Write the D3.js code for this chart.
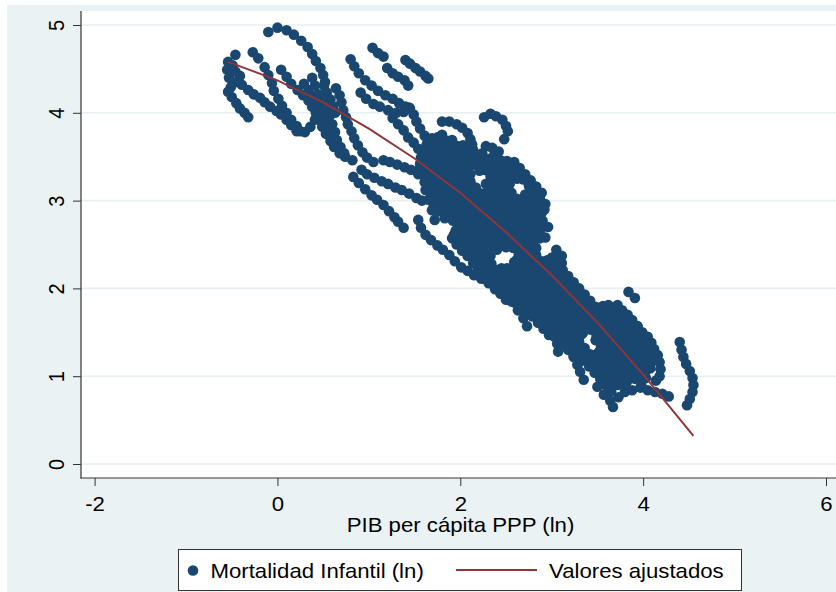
<!DOCTYPE html>
<html>
<head>
<meta charset="utf-8">
<script src="https://cdn.jsdelivr.net/npm/d3@7"></script>
<style>
  html, body { margin: 0; padding: 0; background: #ffffff; }
  svg { display: block; }
  text { font-family: Arial, "Liberation Sans", sans-serif; fill: #000; }
</style>
</head>
<body>
<svg id="chart" width="836" height="592"></svg>
<script>
// Axis ticks
const ticksX = [-2, 0, 2, 4, 6];
const ticksY = [0, 1, 2, 3, 4, 5];

// Fitted values (quadratic fit of ln infant mortality on ln GDP per capita)
const ajusteX = [-0.54, 0.0, 0.5, 1.0, 1.5, 2.0, 2.5, 3.0, 3.5, 4.0, 4.55];
const ajusteY = [4.58, 4.37, 4.12, 3.82, 3.48, 3.09, 2.64, 2.15, 1.61, 1.02, 0.32];

// Observations [ln PIB per cápita PPP, ln mortalidad infantil], low-income trajectories
const obsIngresoBajo = [
  [-0.46,4.66],[-0.54,4.58],[-0.49,4.54],[-0.55,4.49],[-0.46,4.47],[-0.41,4.42],[-0.53,4.40],[-0.45,4.35],[-0.51,4.29],[-0.54,4.24],
  [-0.50,4.18],[-0.45,4.11],[-0.41,4.05],[-0.36,4.00],[-0.32,3.95],
  [-0.39,4.32],[-0.32,4.26],[-0.26,4.21],[-0.19,4.17],[-0.14,4.12],[-0.08,4.07],[-0.01,4.02],[0.04,3.98],[0.10,3.92],[0.15,3.86],[0.21,3.79],
  [-0.27,4.69],[-0.21,4.62],
  [-0.14,4.52],[-0.10,4.43],[-0.06,4.34],[-0.04,4.25],[0.01,4.16],[0.05,4.08],[0.10,4.00],[0.15,3.92],[0.21,3.85],[0.25,3.79],[0.30,3.78],[0.36,3.84],[0.41,3.92],
  [-0.10,4.92],[0.00,4.97],[0.10,4.94],[0.18,4.89],[0.26,4.82],[0.33,4.75],[0.38,4.67],[0.42,4.59],[0.47,4.51],[0.50,4.43],[0.52,4.35],
  [0.04,4.49],[0.10,4.41],[0.15,4.33],[0.22,4.26],[0.28,4.20],[0.34,4.14],[0.38,4.07],[0.42,4.00],[0.46,3.92],[0.49,3.84],[0.53,3.76],[0.58,3.68],[0.62,3.61],[0.68,3.54],[0.74,3.50],[0.82,3.46],
  [0.29,4.33],[0.34,4.26],[0.38,4.19],[0.42,4.11],[0.47,4.03],[0.50,3.95],[0.53,3.87],[0.57,3.79],[0.60,3.71],[0.64,3.65],
  [0.38,4.40],[0.41,4.31],[0.45,4.21],[0.49,4.13],[0.53,4.05],[0.57,3.96],[0.60,3.87],[0.63,3.78],[0.65,3.69],[0.69,3.61],[0.73,3.54],
  [0.51,4.31],[0.54,4.23],[0.58,4.15],[0.61,4.07],[0.63,4.00],
  [0.64,4.28],[0.68,4.20],[0.70,4.12],[0.72,4.03],[0.75,3.95],[0.77,3.87],[0.81,3.79],[0.84,3.71],[0.88,3.63],[0.93,3.55],[0.98,3.49],[1.05,3.44],
  [0.80,4.61],[0.84,4.53],[0.89,4.45],[0.96,4.37],[1.03,4.31],[1.10,4.25],[1.18,4.20],[1.26,4.16],[1.33,4.11],[1.40,4.07],
  [0.91,4.23],[0.97,4.16],[1.05,4.10],[1.12,4.07],[1.21,4.03],[1.30,4.00],[1.38,4.01],[1.44,4.06],
  [1.04,4.74],[1.10,4.68],[1.16,4.64],
  [1.20,4.51],[1.26,4.45],[1.32,4.41],[1.39,4.37],[1.43,4.31],
  [0.83,3.27],[0.89,3.20],[0.96,3.13],[1.03,3.06],[1.09,3.01],[1.16,2.95],[1.22,2.88],[1.28,2.81],[1.32,2.76],[1.38,2.69],
  [0.92,3.35],[0.98,3.30],[1.06,3.26],[1.14,3.22],[1.21,3.19],[1.29,3.15],[1.36,3.12],[1.44,3.08],[1.52,3.03],[1.58,3.00]
];

// Middle-income trajectories
const obsIngresoMedio = [
  [1.40,4.60],[1.45,4.56],[1.51,4.51],[1.56,4.47],[1.62,4.42],[1.65,4.39],
  [1.45,4.05],[1.49,3.98],[1.52,3.90],[1.56,3.82],[1.61,3.74],[1.64,3.66],[1.67,3.58],
  [1.26,3.94],[1.32,3.87],[1.38,3.80],[1.43,3.72],[1.49,3.66],[1.54,3.59],[1.59,3.53],
  [1.80,3.90],[1.88,3.90],[1.96,3.87],[2.02,3.83],[2.08,3.77],[2.11,3.70],[2.13,3.64],
  [2.26,3.95],[2.33,3.99],[2.39,3.96],[2.46,3.92],[2.50,3.85],[2.52,3.79],
  [2.48,3.70],[2.28,3.62],[2.35,3.60],[2.42,3.56],
  [1.16,3.46],[1.23,3.44],[1.31,3.41],[1.39,3.38],[1.46,3.35],[1.54,3.30],[1.62,3.26],[1.69,3.22],
  [1.54,2.78],[1.57,2.69],[1.62,2.61],[1.68,2.55],[1.75,2.49],[1.81,2.44],[1.88,2.38],[1.94,2.31],[2.01,2.24],[2.08,2.20],[2.15,2.15],[2.23,2.11],[2.31,2.06],[2.38,2.01],[2.45,1.95],
  [1.72,2.78],[1.91,2.57],[1.96,2.50],[2.02,2.43],[2.08,2.37],[2.14,2.29],[2.19,2.22],[2.26,2.15],[2.32,2.08],[2.38,2.02],[2.44,1.94],[2.50,1.87],
  [1.65,3.01],[1.71,2.94],[1.77,2.88],[1.83,2.80],[1.95,2.66],[2.01,2.59],[2.07,2.52],[2.13,2.45],[2.19,2.38],[2.25,2.31],[2.31,2.24],[2.37,2.17],[2.43,2.10],[2.49,2.03],[2.55,1.96],[2.61,1.89],[2.67,1.82],[2.73,1.75],[2.79,1.68],[2.85,1.61],[2.91,1.54],[2.97,1.47],
  [1.61,3.21],[1.67,3.14],[1.73,3.07],[1.79,3.00],[1.85,2.93],[1.91,2.86],[1.97,2.79],[2.03,2.72],[2.09,2.65],[2.15,2.58],[2.21,2.51],[2.27,2.44],[2.33,2.37],[2.45,2.23],[2.51,2.16],[2.57,2.09],[2.63,2.02],[2.69,1.95],[2.75,1.88],[2.81,1.81],[2.87,1.74],[2.93,1.67],[2.99,1.60],[3.05,1.53],[3.11,1.46],[3.17,1.39],[3.23,1.32],[3.29,1.25],[3.35,1.18],[3.41,1.11],[3.47,1.04],[3.53,0.97],[3.59,0.90],[3.65,0.83],
  [1.56,3.42],[1.62,3.35],[1.68,3.28],[1.74,3.21],[1.80,3.14],[1.86,3.07],[1.92,3.00],[1.98,2.93],[2.04,2.86],[2.10,2.79],[2.16,2.72],[2.22,2.65],[2.28,2.58],[2.34,2.51],[2.40,2.44],[2.58,2.23],[2.64,2.16],[2.70,2.09],[2.76,2.02],[2.82,1.95],[2.88,1.88],[2.94,1.81],[3.00,1.74],[3.06,1.67],[3.12,1.60],[3.18,1.53],[3.24,1.46],[3.30,1.39],[3.36,1.32],[3.42,1.25],[3.48,1.18],[3.54,1.11],[3.60,1.04],[3.66,0.97],[3.72,0.90],
  [1.60,3.52],[1.66,3.45],[1.72,3.38],[1.78,3.31],[1.84,3.24],[1.90,3.17],[1.96,3.10],[2.02,3.03],[2.08,2.96],[2.14,2.89],[2.20,2.82],[2.26,2.75],[2.32,2.68],[2.38,2.61],[2.44,2.54],[2.50,2.47],[2.62,2.33],[2.68,2.26],[2.74,2.19],[2.80,2.12],[2.86,2.05],[2.92,1.98],[2.98,1.91],[3.04,1.84],[3.10,1.77],[3.16,1.70],[3.22,1.63],[3.28,1.56],[3.34,1.49],[3.52,1.28],[3.58,1.21],[3.64,1.14],[3.70,1.07],[3.76,1.00],[3.82,0.93],
  [1.63,3.63],[1.69,3.56],[1.75,3.49],[1.81,3.42],[1.87,3.35],[1.93,3.28],[1.99,3.21],[2.05,3.14],[2.11,3.07],[2.17,3.00],[2.23,2.93],[2.29,2.86],[2.35,2.79],[2.41,2.72],[2.47,2.65],[2.53,2.58],[2.59,2.51],[2.65,2.44],[2.71,2.37],[2.77,2.30],[2.83,2.23],[2.89,2.16],[2.95,2.09],[3.01,2.02],[3.07,1.95],[3.13,1.88],[3.19,1.81],[3.25,1.74],[3.31,1.67],[3.37,1.60],[3.43,1.53],[3.49,1.46],[3.55,1.39],[3.61,1.32],[3.67,1.25],[3.73,1.18],[3.79,1.11],[3.85,1.04],[3.91,0.97],
  [1.69,3.71],[1.75,3.64],[1.81,3.57],[1.87,3.50],[1.93,3.43],[1.99,3.36],[2.05,3.29],[2.11,3.22],[2.17,3.15],[2.23,3.08],[2.29,3.01],[2.35,2.94],[2.41,2.87],[2.47,2.80],[2.53,2.73],[2.59,2.66],[2.65,2.59],[2.71,2.52],[2.77,2.45],[2.83,2.38],[2.89,2.31],[2.95,2.24],[3.01,2.17],[3.07,2.10],[3.13,2.03],[3.19,1.96],[3.25,1.89],[3.31,1.82],[3.37,1.75],[3.43,1.68],[3.49,1.61],[3.55,1.54],[3.61,1.47],[3.67,1.40],[3.73,1.33],[3.79,1.26],[3.85,1.19],[3.91,1.12],[3.97,1.05],[4.03,0.98],
  [1.80,3.75],[1.86,3.68],[1.92,3.61],[1.98,3.54],[2.04,3.47],[2.10,3.40],[2.28,3.19],[2.34,3.12],[2.40,3.05],[2.46,2.98],[2.52,2.91],[2.58,2.84],[2.64,2.77],[2.70,2.70],[2.76,2.63],[2.82,2.56],[3.00,2.35],[3.06,2.28],[3.12,2.21],[3.18,2.14],[3.24,2.07],[3.30,2.00],[3.36,1.93],[3.42,1.86],[3.48,1.79],[3.54,1.72],[3.60,1.65],[3.66,1.58],[3.72,1.51],[3.78,1.44],[3.84,1.37],[3.90,1.30],[3.96,1.23],[4.02,1.16],[4.08,1.09],
  [2.03,3.63],[2.09,3.56],[2.15,3.49],[2.21,3.42],[2.27,3.35],[2.33,3.28],[2.39,3.21],[2.45,3.14],[2.51,3.07],[2.57,3.00],[2.63,2.93],[2.69,2.86],[2.75,2.79],[2.81,2.72],[2.87,2.65],[2.93,2.58],[3.05,2.44],[3.11,2.37],
  [2.24,3.54],[2.30,3.47],[2.36,3.40],[2.42,3.33],[2.48,3.26],[2.54,3.19],[2.72,2.98],[2.78,2.91],[2.84,2.84],[2.90,2.77],[2.96,2.70],
  [2.44,3.46],[2.50,3.39],[2.56,3.32],[2.62,3.25],[2.80,3.04],[2.86,2.97],[2.92,2.90],
  [2.59,3.44],[2.65,3.37],[2.71,3.30],[2.77,3.23],[2.83,3.16],[2.89,3.09]
];

// Upper-middle-income trajectories, interleaved with the ones above
const obsIngresoMedioAlto = [
  [1.69,2.89],[1.93,2.61],[1.99,2.54],[2.05,2.47],[2.11,2.40],[2.17,2.33],[2.23,2.26],[2.29,2.19],[2.35,2.12],[2.41,2.05],[2.47,1.98],[2.53,1.91],[2.59,1.84],[2.65,1.77],[2.71,1.70],
  [1.62,3.12],[1.68,3.05],[1.74,2.98],[1.80,2.91],[1.86,2.84],[1.92,2.77],[1.98,2.70],[2.04,2.63],[2.10,2.56],[2.16,2.49],[2.22,2.42],[2.28,2.35],[2.34,2.28],[2.40,2.21],[2.46,2.14],[2.52,2.07],[2.58,2.00],[2.64,1.93],[2.70,1.86],[2.76,1.79],[2.82,1.72],[2.88,1.65],[2.94,1.58],[3.00,1.51],[3.06,1.44],[3.12,1.37],[3.18,1.30],[3.24,1.23],[3.30,1.16],
  [1.55,3.35],[1.61,3.28],[1.67,3.21],[1.73,3.14],[1.79,3.07],[1.85,3.00],[1.91,2.93],[1.97,2.86],[2.03,2.79],[2.09,2.72],[2.15,2.65],[2.21,2.58],[2.27,2.51],[2.33,2.44],[2.51,2.23],[2.57,2.16],[2.63,2.09],[2.69,2.02],[2.75,1.95],[2.81,1.88],[2.87,1.81],[2.93,1.74],[2.99,1.67],[3.05,1.60],[3.11,1.53],[3.17,1.46],[3.23,1.39],[3.29,1.32],[3.35,1.25],[3.41,1.18],[3.47,1.11],[3.53,1.04],[3.59,0.97],[3.65,0.90],
  [1.57,3.49],[1.63,3.42],[1.69,3.35],[1.75,3.28],[1.81,3.21],[1.87,3.14],[1.93,3.07],[1.99,3.00],[2.05,2.93],[2.11,2.86],[2.17,2.79],[2.23,2.72],[2.29,2.65],[2.35,2.58],[2.41,2.51],[2.59,2.30],[2.65,2.23],[2.71,2.16],[2.77,2.09],[2.83,2.02],[2.89,1.95],[2.95,1.88],[3.01,1.81],[3.07,1.74],[3.13,1.67],[3.19,1.60],[3.25,1.53],[3.31,1.46],[3.49,1.25],[3.55,1.18],[3.61,1.11],[3.67,1.04],[3.73,0.97],[3.79,0.90],
  [1.62,3.58],[1.68,3.51],[1.74,3.44],[1.80,3.37],[1.86,3.30],[1.92,3.23],[1.98,3.16],[2.04,3.09],[2.10,3.02],[2.16,2.95],[2.22,2.88],[2.28,2.81],[2.34,2.74],[2.40,2.67],[2.46,2.60],[2.52,2.53],[2.58,2.46],[2.64,2.39],[2.70,2.32],[2.76,2.25],[2.82,2.18],[2.88,2.11],[2.94,2.04],[3.00,1.97],[3.06,1.90],[3.12,1.83],[3.18,1.76],[3.24,1.69],[3.30,1.62],[3.36,1.55],[3.48,1.41],[3.54,1.34],[3.60,1.27],[3.66,1.20],[3.72,1.13],[3.78,1.06],[3.84,0.99],
  [1.65,3.69],[1.71,3.62],[1.77,3.55],[1.83,3.48],[1.89,3.41],[1.95,3.34],[2.01,3.27],[2.07,3.20],[2.13,3.13],[2.19,3.06],[2.25,2.99],[2.31,2.92],[2.37,2.85],[2.43,2.78],[2.49,2.71],[2.55,2.64],[2.61,2.57],[2.67,2.50],[2.73,2.43],[2.79,2.36],[2.85,2.29],[2.91,2.22],[2.97,2.15],[3.03,2.08],[3.09,2.01],[3.15,1.94],[3.21,1.87],[3.27,1.80],[3.33,1.73],[3.39,1.66],[3.45,1.59],[3.51,1.52],[3.57,1.45],[3.63,1.38],[3.69,1.31],[3.75,1.24],[3.81,1.17],[3.87,1.10],[3.93,1.03],[3.99,0.96],
  [1.75,3.72],[1.81,3.65],[1.87,3.58],[1.93,3.51],[1.99,3.44],[2.05,3.37],[2.11,3.30],[2.29,3.09],[2.35,3.02],[2.41,2.95],[2.47,2.88],[2.53,2.81],[2.59,2.74],[2.65,2.67],[2.71,2.60],[2.77,2.53],[2.83,2.46],[2.95,2.32],[3.01,2.25],[3.07,2.18],[3.13,2.11],[3.19,2.04],[3.25,1.97],[3.31,1.90],[3.37,1.83],[3.43,1.76],[3.49,1.69],[3.55,1.62],[3.61,1.55],[3.67,1.48],[3.73,1.41],[3.79,1.34],[3.85,1.27],[3.91,1.20],[3.97,1.13],[4.03,1.06],
  [1.91,3.69],[1.97,3.62],[2.03,3.55],[2.09,3.48],[2.15,3.41],[2.21,3.34],[2.33,3.20],[2.39,3.13],[2.45,3.06],[2.51,2.99],[2.57,2.92],[2.63,2.85],[2.69,2.78],[2.75,2.71],[2.81,2.64],[2.87,2.57],[3.05,2.36],[3.11,2.29],
  [3.56,1.80],[3.62,1.73],[3.68,1.66],[3.74,1.59],[3.80,1.52],[3.86,1.45],[3.92,1.38],[3.98,1.31],[4.04,1.24],[4.10,1.17],
  [2.14,3.58],[2.20,3.51],[2.26,3.44],[2.32,3.37],[2.38,3.30],[2.44,3.23],[2.50,3.16],[2.56,3.09],[2.62,3.02],[2.68,2.95],[2.74,2.88],[2.80,2.81],[2.86,2.74],
  [2.35,3.49],[2.41,3.42],[2.47,3.35],[2.53,3.28],[2.71,3.07],[2.77,3.00],[2.83,2.93],[2.89,2.86],
  [2.51,3.45],[2.57,3.38],[2.63,3.31],[2.69,3.24],[2.75,3.17],[2.81,3.10],[2.87,3.03],[2.93,2.96]
];

// Higher-income trajectories
const obsIngresoAlto = [
  [2.29,2.10],[2.38,1.99],[2.47,1.93],[2.56,1.85],[2.63,1.75],[2.69,1.66],[2.73,1.57],
  [2.98,1.53],[3.03,1.45],[3.06,1.37],[3.07,1.28],
  [3.24,1.22],[3.28,1.13],[3.31,1.05],[3.35,0.96],
  [3.50,0.88],[3.57,0.79],[3.64,0.72],[3.67,0.65],
  [3.73,0.76],[3.80,0.82],[3.88,0.84],[3.97,0.87],[4.05,0.84],[4.13,0.82],[4.21,0.80],[4.28,0.77],
  [4.40,1.39],[4.42,1.30],[4.44,1.22],[4.47,1.14],[4.51,1.06],[4.54,0.98],[4.55,0.90],[4.54,0.82],[4.51,0.74],[4.48,0.67],
  [3.72,1.81],[3.77,1.75],[3.83,1.70],[3.88,1.64],[3.94,1.57],[3.99,1.50],[4.05,1.45],[4.09,1.38],[4.12,1.31],[4.16,1.24],[4.18,1.16],[4.19,1.08],[4.18,1.00],[4.14,0.95],
  [3.62,1.81],[3.68,1.74],[3.74,1.67],[3.80,1.60],[3.86,1.53],[3.92,1.46],[3.98,1.39],[4.04,1.32],[4.10,1.25],[4.16,1.18],
  [3.90,1.16],[3.90,1.07],[3.93,0.98],[3.98,0.90],
  [3.84,1.96],[3.91,1.89]
];

const observaciones = obsIngresoBajo.concat(obsIngresoMedio, obsIngresoMedioAlto, obsIngresoAlto);

const W = 836, H = 592;
const plot = { left: 81, top: 11, right: 840, bottom: 478 };
const stretch = 1.11;   // horizontal text stretch
const fontSize = 20;
const fontFamily = "Arial, 'Liberation Sans', sans-serif";

const svg = d3.select("#chart");

// Graph region and plot region backgrounds
svg.append("rect").attr("x", 7).attr("y", 5).attr("width", W - 7).attr("height", H - 5).attr("fill", "#eaf2f3");
svg.append("rect").attr("x", plot.left).attr("y", plot.top)
  .attr("width", plot.right - plot.left).attr("height", plot.bottom - plot.top).attr("fill", "#ffffff");

const x = d3.scaleLinear().domain([-2, 6]).range([94.6, 826.0]);
const y = d3.scaleLinear().domain([0, 5]).range([464, 25]);

// Horizontal gridlines
svg.append("g").selectAll("line").data(ticksY).join("line")
  .attr("x1", plot.left).attr("x2", plot.right)
  .attr("y1", d => y(d)).attr("y2", d => y(d))
  .attr("stroke", "#e7eff1").attr("stroke-width", 1.6);

// Y axis
const gy = svg.append("g").attr("transform", `translate(${plot.left},0)`)
  .call(d3.axisLeft(y).tickValues(ticksY).tickSize(8).tickFormat(d => String(d)));
gy.select(".domain").remove();
gy.selectAll(".tick line").attr("stroke", "#333").attr("stroke-width", 1);
gy.selectAll(".tick text")
  .attr("x", 0).attr("y", 0).attr("dy", 0)
  .attr("text-anchor", "middle")
  .attr("font-size", fontSize)
  .attr("font-family", fontFamily)
  .attr("fill", "#000")
  .attr("transform", `translate(-17.5,0) scale(${stretch},1) rotate(-90)`);
svg.append("line").attr("x1", plot.left).attr("x2", plot.left)
  .attr("y1", plot.top).attr("y2", plot.bottom + 0.5)
  .attr("stroke", "#333").attr("stroke-width", 1.2);

// X axis
const gx = svg.append("g").attr("transform", `translate(0,${plot.bottom})`)
  .call(d3.axisBottom(x).tickValues(ticksX).tickSize(8).tickFormat(d => String(d)));
gx.select(".domain").remove();
gx.selectAll(".tick line").attr("stroke", "#333").attr("stroke-width", 1);
gx.selectAll(".tick text")
  .attr("y", 0).attr("dy", 0)
  .attr("text-anchor", "middle")
  .attr("font-size", fontSize)
  .attr("font-family", fontFamily)
  .attr("fill", "#000")
  .attr("transform", `translate(0,33) scale(${stretch},1)`);
svg.append("line").attr("x1", plot.left - 0.5).attr("x2", plot.right)
  .attr("y1", plot.bottom).attr("y2", plot.bottom)
  .attr("stroke", "#333").attr("stroke-width", 1.2);

// Axis title
svg.append("text")
  .attr("transform", `translate(460.5,532) scale(${stretch},1)`)
  .attr("text-anchor", "middle").attr("font-size", fontSize)
  .text("PIB per cápita PPP (ln)");

// Scatter
svg.append("g").selectAll("circle").data(observaciones).join("circle")
  .attr("cx", d => x(d[0])).attr("cy", d => y(d[1]))
  .attr("r", 5.3).attr("fill", "#1a476f");

// Fitted values line
const ajuste = ajusteX.map((v, i) => [v, ajusteY[i]]);
svg.append("path").datum(ajuste)
  .attr("d", d3.line().x(d => x(d[0])).y(d => y(d[1])))
  .attr("fill", "none").attr("stroke", "#90353b").attr("stroke-width", 2);

// Legend
const leg = svg.append("g");
leg.append("rect").attr("x", 178.5).attr("y", 549.5).attr("width", 563).attr("height", 41)
  .attr("fill", "#ffffff").attr("stroke", "#333").attr("stroke-width", 1);
leg.append("circle").attr("cx", 193).attr("cy", 570.5).attr("r", 5.3).attr("fill", "#1a476f");
leg.append("text").attr("transform", `translate(210.5,578) scale(${stretch},1)`)
  .attr("font-size", fontSize).text("Mortalidad Infantil (ln)");
leg.append("line").attr("x1", 456).attr("x2", 537).attr("y1", 570).attr("y2", 570)
  .attr("stroke", "#90353b").attr("stroke-width", 2);
leg.append("text").attr("transform", `translate(549,578) scale(${stretch},1)`)
  .attr("font-size", fontSize).text("Valores ajustados");
</script>
</body>
</html>
